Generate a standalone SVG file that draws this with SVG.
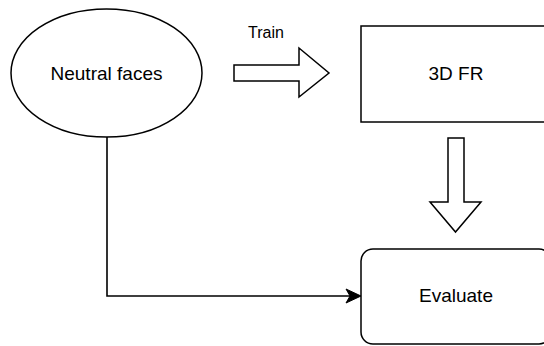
<svg xmlns="http://www.w3.org/2000/svg" width="544" height="346" viewBox="0 0 544 346">
<style>
.s{fill:#fff;stroke:#000;stroke-width:1.5}
.t{font-family:"Liberation Sans",Arial,sans-serif;font-size:19px;fill:#000;text-anchor:middle}
.c{fill:none;stroke:#000;stroke-width:1.6}
</style>
<rect width="544" height="346" fill="#fff"/>
<g id="neutral">
<ellipse class="s" cx="106.5" cy="73" rx="95.5" ry="64"/>
<text class="t" x="106.5" y="79.5">Neutral faces</text>
</g>
<g id="fr">
<rect class="s" x="361" y="26" width="190" height="96"/>
<text class="t" x="456" y="80">3D FR</text>
</g>
<g id="evaluate">
<rect class="s" x="361" y="249" width="190" height="95" rx="12" ry="12"/>
<text class="t" x="456" y="302">Evaluate</text>
</g>
<g id="train-arrow">
<polygon class="s" points="234,65 299,65 299,48 329,73 299,97 299,81 234,81"/>
<text x="266" y="38" style="font-family:'Liberation Sans',Arial,sans-serif;font-size:16px;text-anchor:middle">Train</text>
</g>
<g id="down-arrow">
<polygon class="s" points="448,138 464,138 464,202 481,202 455.5,232 430,202 448,202"/>
</g>
<g id="connectors">
<path class="c" d="M107,137 V296 H352"/>
<polygon points="361,296 346,289 350,296 346,303" fill="#000" stroke="#000" stroke-width="1"/>
</g>
</svg>
